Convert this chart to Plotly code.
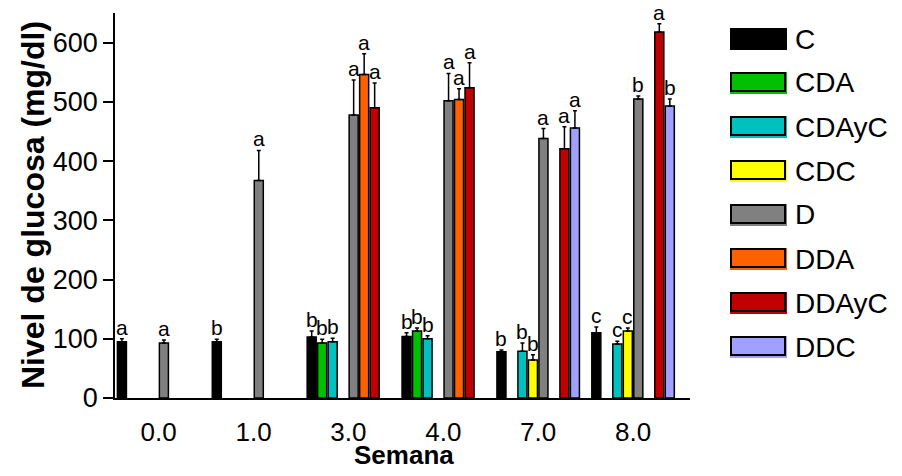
import plotly.graph_objects as go

weeks = ["0.0", "1.0", "3.0", "4.0", "7.0", "8.0"]
series = ["C", "CDA", "CDAyC", "CDC", "D", "DDA", "DDAyC", "DDC"]

C_mean = [95, 95, 103, 104, 78, 110]
C_err = [5, 4, 10, 6, 3, 10]
C_let = ["a", "b", "b", "b", "b", "c"]

CDA_mean = [None, None, 93, 113, None, None]
CDA_err = [None, None, 6, 5, None, None]
CDA_let = ["", "", "b", "b", "", ""]

CDAyC_mean = [None, None, 95, 100, 79, 91]
CDAyC_err = [None, None, 6, 5, 14, 5]
CDAyC_let = ["", "", "b", "b", "b", "c"]

CDC_mean = [None, None, None, None, 64, 113]
CDC_err = [None, None, None, None, 9, 5]
CDC_let = ["", "", "", "", "b", "c"]

D_mean = [93, 367, 478, 502, 438, 505]
D_err = [5, 51, 59, 46, 17, 5]
D_let = ["a", "a", "a", "a", "a", "b"]

DDA_mean = [None, None, 546, 504, None, None]
DDA_err = [None, None, 35, 18, None, None]
DDA_let = ["", "", "a", "a", "", ""]

DDAyC_mean = [None, None, 490, 524, 421, 618]
DDAyC_err = [None, None, 42, 42, 37, 14]
DDAyC_let = ["", "", "a", "a", "a", "a"]

DDC_mean = [None, None, None, None, 456, 493]
DDC_err = [None, None, None, None, 29, 12]
DDC_let = ["", "", "", "", "a", "b"]

means = [C_mean, CDA_mean, CDAyC_mean, CDC_mean, D_mean, DDA_mean, DDAyC_mean, DDC_mean]
errs = [C_err, CDA_err, CDAyC_err, CDC_err, D_err, DDA_err, DDAyC_err, DDC_err]
lets = [C_let, CDA_let, CDAyC_let, CDC_let, D_let, DDA_let, DDAyC_let, DDC_let]
colors = ["#000000", "#00C000", "#00C0C0", "#FFFF00", "#808080", "#FF6000", "#C00000", "#A0A0FF"]

FONT = "Liberation Sans, Arial, sans-serif"
BARGAP = 0.115
NS = len(series)
SLOT = (1 - BARGAP) / NS

fig = go.Figure()
annotations = []
for i, (name, m, e, lt, col) in enumerate(zip(series, means, errs, lets, colors)):
    fig.add_trace(go.Bar(
        x=weeks, y=m, name=name,
        marker=dict(color=col, line=dict(color="black", width=1.5)),
        error_y=dict(type="data", array=e, arrayminus=[0] * len(e), symmetric=False,
                     color="black", thickness=1.5, width=2),
        showlegend=False,
    ))
    # significance letters above the error bars
    for g, (a, b, t) in enumerate(zip(m, e, lt)):
        if a is None or not t:
            continue
        annotations.append(dict(
            x=g + (i - (NS - 1) / 2) * SLOT, y=a + b, xref="x", yref="y",
            text=t, showarrow=False, xanchor="center", yanchor="bottom", yshift=-2,
            font=dict(family=FONT, size=21, color="black")))

# page has an 8px body margin; figure is sized to fit the window exactly
OFF = 8
W, H = 902 - 2 * OFF, 476 - 2 * OFF
# plot area in screen pixels
L, R, T, B = 115, 690, 13, 398


def px(x):
    return (x - L) / (R - L)


def py(y):
    return (B - y) / (B - T)


shapes = []
row0, dy = 39, 44
for i, (name, col) in enumerate(zip(series, colors)):
    yc = row0 + i * dy
    shapes.append(dict(type="rect", xref="paper", yref="paper",
                       x0=px(730), x1=px(787), y0=py(yc + 11), y1=py(yc - 11),
                       fillcolor=col, line=dict(width=0)))
    if name != "C":
        shapes.append(dict(type="rect", xref="paper", yref="paper",
                           x0=px(731), x1=px(785), y0=py(yc + 8), y1=py(yc - 10),
                           fillcolor=col, line=dict(color="black", width=2)))
    annotations.append(dict(xref="paper", yref="paper", x=px(793), y=py(yc),
                            text=name, showarrow=False, xanchor="left", yanchor="middle",
                            font=dict(family=FONT, size=28, color="black")))

annotations.append(dict(xref="paper", yref="paper", x=px(404), y=py(472),
                        text="Semana", showarrow=False, xanchor="center", yanchor="bottom",
                        font=dict(family=FONT, size=26, color="black", weight="bold")))
annotations.append(dict(xref="paper", yref="paper", x=px(33), y=py(205),
                        text="Nivel de glucosa (mg/dl)", textangle=-90, showarrow=False,
                        xanchor="center", yanchor="middle",
                        font=dict(family=FONT, size=32, color="black", weight="bold")))

fig.update_layout(
    width=W, height=H,
    margin=dict(l=L - OFF, r=W - (R - OFF), t=T - OFF, b=H - (B - OFF), autoexpand=False),
    paper_bgcolor="white", plot_bgcolor="white",
    barmode="group", bargap=BARGAP, bargroupgap=0.14,
    font=dict(family=FONT, color="black"),
    shapes=shapes, annotations=annotations,
    showlegend=False,
    xaxis=dict(
        type="category", range=[-0.46, 5.6], automargin=False,
        showline=True, linecolor="black", linewidth=1.5,
        ticks="", showgrid=False, zeroline=False,
        tickfont=dict(family=FONT, size=26, color="black"),
        ticklabelstandoff=10,
    ),
    yaxis=dict(
        range=[0, 650], dtick=100, tick0=0, automargin=False,
        showline=True, linecolor="black", linewidth=1.5,
        ticks="outside", ticklen=10, tickwidth=1.5, tickcolor="black",
        showgrid=False, zeroline=False,
        tickfont=dict(family=FONT, size=27, color="black"),
    ),
)

fig.write_html("out.html")
